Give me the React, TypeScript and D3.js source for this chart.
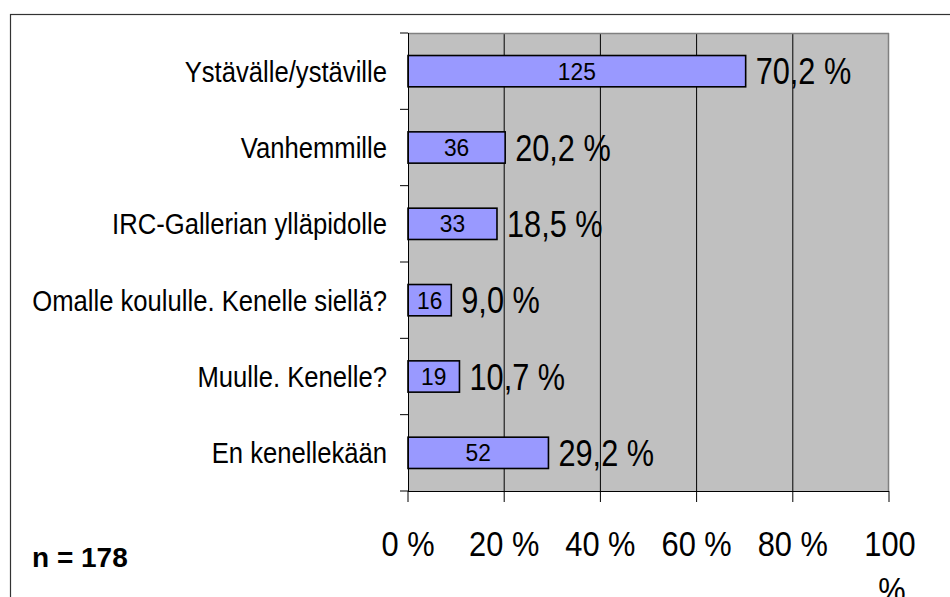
import React from "react";
import * as d3 from "d3";

const categories = [
  "Ystävälle/ystäville",
  "Vanhemmille",
  "IRC-Gallerian ylläpidolle",
  "Omalle koululle. Kenelle siellä?",
  "Muulle. Kenelle?",
  "En kenellekään",
];
const counts = [125, 36, 33, 16, 19, 52];
const percents = [70.2, 20.2, 18.5, 9.0, 10.7, 29.2];
const xTicks = [0, 20, 40, 60, 80, 100];
const nLabel = "n = 178";

const W = 950;
const H = 597;
const plot = { left: 408, right: 889, top: 33, bottom: 491 };
const FONT = "'Liberation Sans', Arial, Helvetica, sans-serif";

export default function App() {
  const x = d3.scaleLinear().domain([0, 100]).range([plot.left, plot.right]);
  const y = d3
    .scaleBand<string>()
    .domain(categories)
    .range([plot.top, plot.bottom])
    .paddingInner(0.59)
    .paddingOuter(0.295);
  const step = y.step();
  const bw = y.bandwidth();

  const fmtPct = (v: number) => v.toFixed(1).replace(".", ",") + " %";

  return (
    <svg
      width={W}
      height={H}
      style={{ position: "absolute", left: 0, top: 0, background: "#fff" }}
      fontFamily={FONT}
    >
      {/* outer frame */}
      <rect x={10.5} y={14.5} width={1000} height={700} fill="#fff" stroke="#333" strokeWidth={1.2} />

      {/* plot background */}
      <rect
        x={plot.left}
        y={plot.top}
        width={plot.right - plot.left}
        height={plot.bottom - plot.top}
        fill="#c0c0c0"
      />
      {/* gridlines */}
      {xTicks.slice(1, -1).map((t) => (
        <line key={"g" + t} x1={x(t)} x2={x(t)} y1={plot.top} y2={plot.bottom} stroke="#000" strokeWidth={1} />
      ))}
      {/* plot border top/right */}
      <line x1={plot.left} x2={plot.right} y1={plot.top + 0.5} y2={plot.top + 0.5} stroke="#808080" strokeWidth={1.5} />
      <line x1={plot.right - 0.5} x2={plot.right - 0.5} y1={plot.top} y2={plot.bottom} stroke="#808080" strokeWidth={1.5} />

      {/* bars */}
      {categories.map((c, i) => {
        const y0 = y(c)!;
        const x1 = x(percents[i]);
        return (
          <g key={c}>
            <rect
              x={plot.left}
              y={y0}
              width={x1 - plot.left}
              height={bw}
              fill="#9999ff"
              stroke="#000"
              strokeWidth={1.6}
            />
            <text
              transform={`translate(${(plot.left + x1) / 2},${y0 + bw / 2 + 8.5}) scale(0.95,1)`}
              textAnchor="middle"
              fontSize={24}
              fill="#000"
            >
              {counts[i]}
            </text>
            <text
              transform={`translate(${x1 + 10},${y0 + bw / 2 + 13}) scale(0.83,1)`}
              textAnchor="start"
              fontSize={37}
              fill="#000"
            >
              {fmtPct(percents[i])}
            </text>
          </g>
        );
      })}

      {/* left axis */}
      <line x1={plot.left + 0.5} x2={plot.left + 0.5} y1={plot.top} y2={plot.bottom} stroke="#000" strokeWidth={1} />
      {d3.range(categories.length + 1).map((k) => (
        <line
          key={"lt" + k}
          x1={plot.left - 8}
          x2={plot.left}
          y1={plot.top + k * step}
          y2={plot.top + k * step}
          stroke="#000"
          strokeWidth={1}
        />
      ))}
      {categories.map((c) => (
        <text
          key={"cl" + c}
          transform={`translate(387,${y(c)! + bw / 2 + 10.5}) scale(0.855,1)`}
          textAnchor="end"
          fontSize={30}
          fill="#000"
        >
          {c}
        </text>
      ))}

      {/* bottom axis */}
      <line x1={plot.left} x2={plot.right} y1={plot.bottom + 0.5} y2={plot.bottom + 0.5} stroke="#000" strokeWidth={1} />
      {xTicks.map((t) => (
        <line key={"bt" + t} x1={x(t)} x2={x(t)} y1={plot.bottom} y2={plot.bottom + 11} stroke="#000" strokeWidth={1} />
      ))}
      {xTicks.map((t) =>
        t === 100 ? (
          <g key={"bl" + t}>
            <text transform={`translate(${x(t) + 1},556) scale(0.88,1)`} textAnchor="middle" fontSize={35} fill="#000">
              {t}
            </text>
            <text transform={`translate(${x(t) + 3},602) scale(0.88,1)`} textAnchor="middle" fontSize={35} fill="#000">
              %
            </text>
          </g>
        ) : (
          <text key={"bl" + t} transform={`translate(${x(t)},556) scale(0.88,1)`} textAnchor="middle" fontSize={35} fill="#000">
            {t + " %"}
          </text>
        )
      )}

      {/* n label */}
      <text x={32} y={567} fontSize={28} fontWeight="bold" fill="#000">
        {nLabel}
      </text>
    </svg>
  );
}
